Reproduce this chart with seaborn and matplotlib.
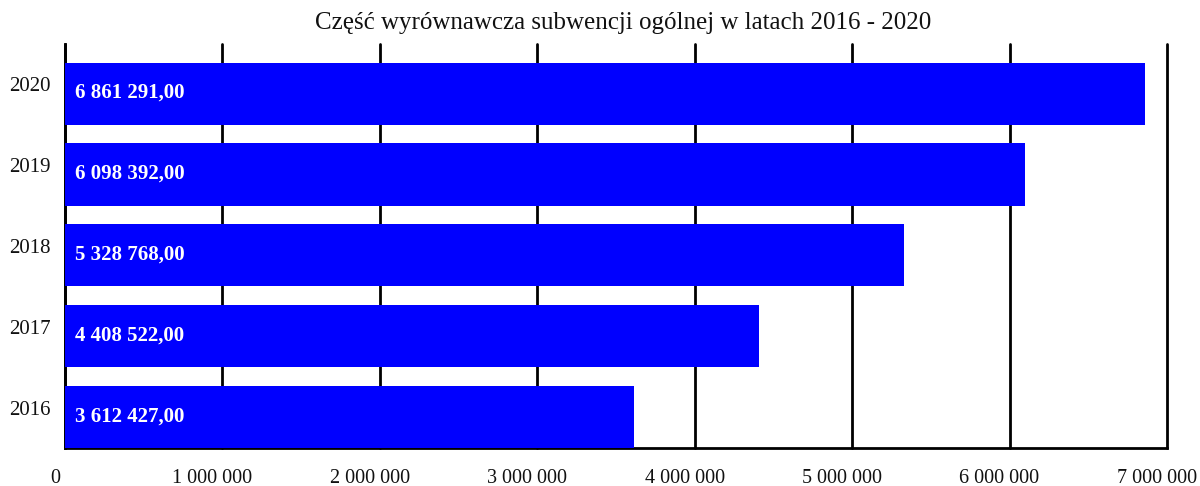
import numpy as np
import pandas as pd
import seaborn as sns
import matplotlib.pyplot as plt
import matplotlib.transforms as mtransforms
from matplotlib.ticker import FuncFormatter, MultipleLocator

# Dane
lata = ['2016', '2017', '2018', '2019', '2020']
kwoty = [3612427.00, 4408522.00, 5328768.00, 6098392.00, 6861291.00]

df = pd.DataFrame({'rok': lata, 'kwota': kwoty})
kolejnosc = lata[::-1]

sns.set_style('white')
plt.rcParams['font.family'] = ['Liberation Serif', 'DejaVu Serif']

fig = plt.figure(figsize=(12, 4.86), dpi=100)
ax = fig.add_axes([0.054, 0.078, 0.9185, 0.8315])

WYS = 0.77
sns.barplot(data=df, y='rok', x='kwota', order=kolejnosc, orient='h',
            color='#0000FF', saturation=1, width=WYS, ax=ax, zorder=3)

# slupki przesuniete w dol w obrebie kategorii (jak w Excelu)
przes = (1 - WYS) / 2
for p in ax.patches:
    p.set_y(p.get_y() + przes)
    p.set_edgecolor('none')

def fmt_pl(v, dec=0):
    s = f"{v:,.{dec}f}".replace(',', ' ').replace('.', ',')
    return s

for i, rok in enumerate(kolejnosc):
    v = df.loc[df['rok'] == rok, 'kwota'].iloc[0]
    ax.text(65000, i + przes - 0.01, fmt_pl(v, 2), color='white', fontsize=15,
            fontweight='bold', va='center', ha='left', zorder=4)

ax.set_xlim(0, 7000000)
ax.set_ylim(len(lata) - 0.5, -0.5)
ax.xaxis.set_major_locator(MultipleLocator(1000000))
ax.xaxis.set_major_formatter(FuncFormatter(lambda v, _: fmt_pl(v)))

ax.grid(axis='x', color='black', linewidth=2, zorder=0)
ax.grid(axis='y', visible=False)
for gl in ax.get_xgridlines():
    gl.set_clip_on(False)

for s in ['top', 'right']:
    ax.spines[s].set_visible(False)
for s in ['left', 'bottom']:
    ax.spines[s].set_color('black')
    ax.spines[s].set_linewidth(2)

ax.set_yticks(np.arange(-0.5, len(lata), 1), minor=True)
ax.tick_params(axis='y', which='major', length=0, pad=10, labelsize=15, colors='#111111')
ax.tick_params(axis='y', which='minor', length=6, width=2, direction='out', color='black')
ax.tick_params(axis='x', which='major', length=6, width=2, direction='inout', pad=12,
               labelsize=14.5, colors='#111111')
ax.tick_params(axis='x', which='major', color='black')

# etykiety osi X lekko przesuniete w lewo, jak w oryginale
przesun = mtransforms.ScaledTranslation(-10 / 100, 0, fig.dpi_scale_trans)
for lab in ax.get_xticklabels():
    lab.set_transform(lab.get_transform() + przesun)

ax.set_xlabel('')
ax.set_ylabel('')

fig.text(0.519, 0.953, 'Część wyrównawcza subwencji ogólnej w latach 2016 - 2020',
         ha='center', va='center', fontsize=18, color='#111111')

fig.savefig('out.png', dpi=100)
